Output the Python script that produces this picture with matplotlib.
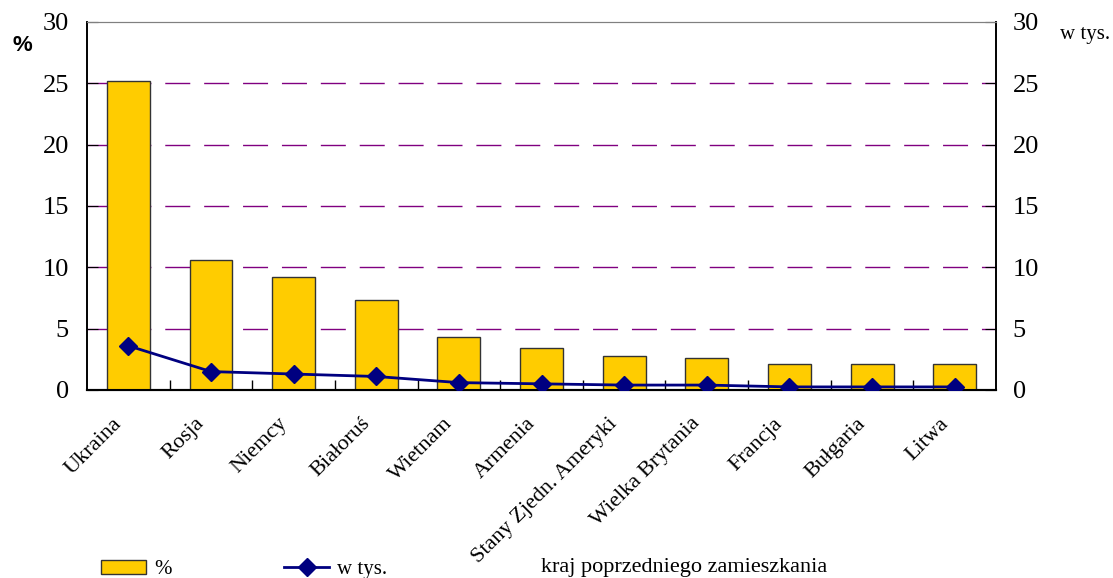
import numpy as np
import matplotlib.pyplot as plt
import matplotlib.transforms as mtransforms
from matplotlib.lines import Line2D
from matplotlib.patches import Patch

countries = ['Ukraina', 'Rosja', 'Niemcy', 'Białoruś', 'Wietnam', 'Armenia',
             'Stany Zjedn. Ameryki', 'Wielka Brytania', 'Francja', 'Bułgaria', 'Litwa']
percent = [25.2, 10.6, 9.2, 7.3, 4.3, 3.4, 2.8, 2.6, 2.1, 2.1, 2.1]
thousands = [3.6, 1.5, 1.3, 1.1, 0.6, 0.5, 0.4, 0.4, 0.25, 0.25, 0.25]

plt.rcParams['font.family'] = ['Liberation Serif', 'DejaVu Serif']

fig = plt.figure(figsize=(11.13, 5.78), dpi=100)
ax = fig.add_axes([0.0782, 0.3253, 0.8167, 0.6367])
x = np.arange(len(countries))

ax.bar(x, percent, width=0.52, color='#FFCC00', edgecolor='#333333', linewidth=1, zorder=3)
ax.set_xlim(-0.5, len(countries) - 0.5)
ax.set_ylim(0, 30)
ax.set_yticks(range(0, 31, 5))
for v in range(5, 30, 5):
    ax.axhline(v, color='#800080', linewidth=1, dashes=(18, 10), zorder=1)

ax.set_xticks(x)
ax.set_xticklabels(countries, rotation=45, ha='right', rotation_mode='anchor', fontsize=16)
ax.tick_params(axis='x', length=0, pad=8)
# shift the rotated labels a bit left and down
offset = mtransforms.ScaledTranslation(-0.16, -0.13, fig.dpi_scale_trans)
for lab in ax.get_xticklabels():
    lab.set_transform(lab.get_transform() + offset)
ax.set_xticks(np.arange(0.5, len(countries) - 0.5, 1), minor=True)
ax.tick_params(axis='x', which='minor', direction='in', length=7, width=1)
ax.tick_params(axis='y', direction='in', length=8, labelsize=19, pad=13)

ax2 = ax.twinx()
ax2.set_ylim(0, 30)
ax2.set_yticks(range(0, 31, 5))
ax2.tick_params(axis='y', direction='in', length=8, labelsize=19, pad=12)
ax2.plot(x, thousands, color='#000080', linewidth=2, marker='D', markersize=9, zorder=4)

for a in (ax, ax2):
    a.spines['top'].set_color('#808080')
    a.spines['left'].set_linewidth(1.2)
    a.spines['right'].set_linewidth(1.2)
    a.spines['bottom'].set_linewidth(1.5)

fig.text(0.011, 0.912, '%', fontsize=16, fontweight='bold', family='Liberation Sans')
fig.text(0.952, 0.932, 'w tys.', fontsize=15)
fig.text(0.486, 0.011, 'kraj poprzedniego zamieszkania', fontsize=16)

handles = [Patch(facecolor='#FFCC00', edgecolor='#333333', label='%'),
           Line2D([0], [0], color='#000080', linewidth=2, marker='D', markersize=9, label='w tys.')]
fig.legend(handles=handles, loc='lower left', bbox_to_anchor=(0.074, -0.035), ncol=2,
           frameon=False, fontsize=15, columnspacing=5.4, handlelength=2.15, handletextpad=0.4)

fig.savefig('out.png', dpi=100)
